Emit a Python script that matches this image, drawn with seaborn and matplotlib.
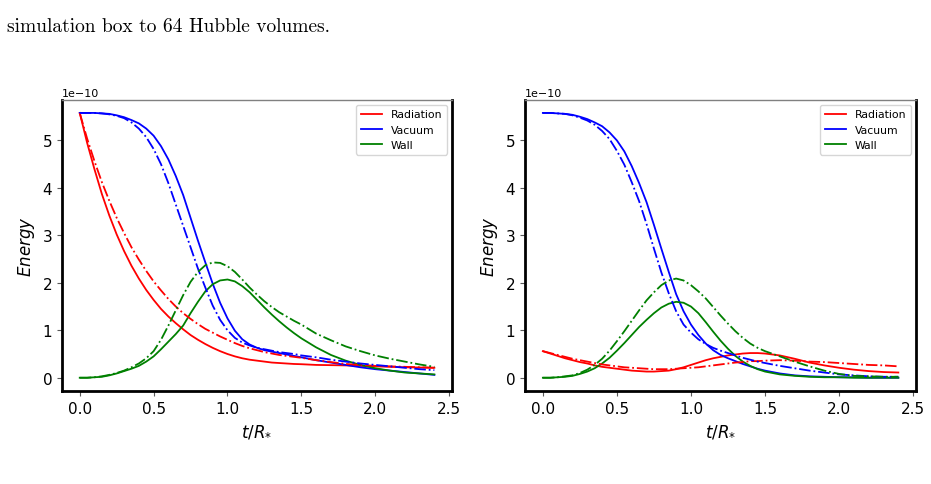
import numpy as np
import pandas as pd
import seaborn as sns
import matplotlib.pyplot as plt

# sample times t/R*
t = [0.0, 0.05, 0.1, 0.15, 0.2, 0.25, 0.3, 0.35, 0.4, 0.45,
     0.5, 0.55, 0.6, 0.65, 0.7, 0.75, 0.8, 0.85, 0.9, 0.95,
     1.0, 1.05, 1.1, 1.15, 1.2, 1.25, 1.3, 1.35, 1.4, 1.45,
     1.5, 1.6, 1.7, 1.8, 1.9, 2.0, 2.1, 2.2, 2.3, 2.4]

scale = 1e-10

# left panel, solid runs
left_rad = [5.58, 4.95, 4.39, 3.87, 3.42, 3.02, 2.67, 2.36, 2.09, 1.85,
            1.64, 1.45, 1.29, 1.15, 1.02, 0.90, 0.80, 0.71, 0.63, 0.56,
            0.50, 0.45, 0.41, 0.38, 0.36, 0.34, 0.32, 0.31, 0.30, 0.29,
            0.285, 0.27, 0.265, 0.26, 0.25, 0.24, 0.23, 0.22, 0.215, 0.21]
left_vac = [5.58, 5.58, 5.58, 5.57, 5.56, 5.53, 5.49, 5.43, 5.36, 5.25,
            5.10, 4.88, 4.60, 4.25, 3.85, 3.37, 2.89, 2.43, 1.98, 1.58,
            1.25, 0.99, 0.81, 0.70, 0.63, 0.58, 0.55, 0.52, 0.49, 0.46,
            0.43, 0.37, 0.32, 0.27, 0.22, 0.18, 0.15, 0.12, 0.09, 0.06]
left_wall = [0.0, 0.0, 0.01, 0.02, 0.05, 0.09, 0.14, 0.19, 0.25, 0.34,
             0.45, 0.60, 0.76, 0.92, 1.10, 1.36, 1.60, 1.82, 1.97, 2.05,
             2.07, 2.03, 1.93, 1.80, 1.64, 1.48, 1.33, 1.19, 1.06, 0.94,
             0.83, 0.64, 0.48, 0.36, 0.27, 0.20, 0.15, 0.11, 0.09, 0.07]

# left panel, dash-dot runs
left_rad_dd = [5.58, 5.04, 4.56, 4.12, 3.73, 3.37, 3.05, 2.75, 2.49, 2.25,
               2.03, 1.84, 1.66, 1.50, 1.36, 1.24, 1.13, 1.03, 0.95, 0.87,
               0.80, 0.73, 0.67, 0.62, 0.58, 0.54, 0.51, 0.48, 0.46, 0.44,
               0.42, 0.37, 0.33, 0.29, 0.27, 0.25, 0.24, 0.23, 0.22, 0.21]
left_vac_dd = [5.58, 5.58, 5.58, 5.57, 5.55, 5.52, 5.47, 5.38, 5.25, 5.07,
               4.82, 4.50, 4.10, 3.65, 3.20, 2.75, 2.30, 1.90, 1.52, 1.22,
               1.00, 0.84, 0.74, 0.68, 0.63, 0.60, 0.57, 0.54, 0.52, 0.50,
               0.47, 0.43, 0.38, 0.34, 0.30, 0.27, 0.24, 0.21, 0.18, 0.16]
left_wall_dd = [0.0, 0.0, 0.01, 0.03, 0.06, 0.10, 0.15, 0.22, 0.30, 0.41,
                0.56, 0.80, 1.10, 1.42, 1.74, 2.02, 2.23, 2.37, 2.43, 2.42,
                2.35, 2.23, 2.07, 1.90, 1.75, 1.61, 1.49, 1.38, 1.29, 1.20,
                1.12, 0.93, 0.79, 0.66, 0.56, 0.47, 0.40, 0.34, 0.28, 0.23]

# right panel, solid runs
right_rad = [0.56, 0.51, 0.46, 0.41, 0.37, 0.33, 0.30, 0.26, 0.23, 0.21,
             0.19, 0.17, 0.15, 0.14, 0.13, 0.13, 0.14, 0.15, 0.18, 0.22,
             0.27, 0.32, 0.37, 0.41, 0.44, 0.47, 0.49, 0.51, 0.52, 0.52,
             0.51, 0.47, 0.40, 0.32, 0.26, 0.21, 0.17, 0.14, 0.12, 0.11]
right_vac = [5.58, 5.58, 5.57, 5.56, 5.54, 5.50, 5.45, 5.38, 5.30, 5.17,
             5.00, 4.77, 4.46, 4.10, 3.70, 3.22, 2.72, 2.23, 1.76, 1.40,
             1.12, 0.90, 0.72, 0.58, 0.48, 0.41, 0.35, 0.29, 0.24, 0.19,
             0.15, 0.09, 0.05, 0.03, 0.02, 0.01, 0.01, 0.0, 0.0, 0.0]
right_wall = [0.0, 0.0, 0.01, 0.02, 0.04, 0.08, 0.13, 0.20, 0.30, 0.42,
              0.57, 0.73, 0.90, 1.07, 1.22, 1.36, 1.48, 1.56, 1.60, 1.58,
              1.50, 1.36, 1.17, 0.97, 0.78, 0.61, 0.46, 0.34, 0.25, 0.18,
              0.13, 0.07, 0.04, 0.02, 0.01, 0.01, 0.0, 0.0, 0.0, 0.0]

# right panel, dash-dot runs
right_rad_dd = [0.56, 0.52, 0.48, 0.44, 0.40, 0.37, 0.34, 0.31, 0.28, 0.26,
                0.24, 0.22, 0.21, 0.20, 0.19, 0.18, 0.18, 0.18, 0.19, 0.20,
                0.21, 0.22, 0.24, 0.26, 0.28, 0.30, 0.32, 0.33, 0.35, 0.35,
                0.36, 0.37, 0.36, 0.34, 0.33, 0.31, 0.29, 0.27, 0.26, 0.24]
right_vac_dd = [5.58, 5.58, 5.57, 5.56, 5.53, 5.48, 5.42, 5.33, 5.20, 5.03,
                4.78, 4.49, 4.12, 3.72, 3.24, 2.72, 2.22, 1.78, 1.40, 1.12,
                0.95, 0.81, 0.71, 0.63, 0.57, 0.52, 0.47, 0.42, 0.38, 0.34,
                0.31, 0.25, 0.20, 0.15, 0.11, 0.07, 0.05, 0.03, 0.02, 0.02]
right_wall_dd = [0.0, 0.0, 0.01, 0.03, 0.05, 0.10, 0.17, 0.27, 0.40, 0.57,
                 0.77, 0.98, 1.20, 1.42, 1.63, 1.80, 1.95, 2.05, 2.09, 2.05,
                 1.95, 1.82, 1.67, 1.49, 1.31, 1.14, 0.98, 0.84, 0.72, 0.63,
                 0.56, 0.45, 0.34, 0.24, 0.15, 0.08, 0.04, 0.03, 0.02, 0.02]

components = ['Radiation', 'Vacuum', 'Wall']
colors = ['red', 'blue', 'green']

panels = [
    ([left_rad, left_vac, left_wall],
     [left_rad_dd, left_vac_dd, left_wall_dd]),
    ([right_rad, right_vac, right_wall],
     [right_rad_dd, right_vac_dd, right_wall_dd]),
]

fig = plt.figure(figsize=(9.31, 4.85), dpi=100)
ax_boxes = [[0.0666, 0.1918, 0.419, 0.6006],
            [0.564, 0.1918, 0.42, 0.6006]]

for box, (solid, dashdot) in zip(ax_boxes, panels):
    ax = fig.add_axes(box)
    for name, col, ys in zip(components, colors, solid):
        sns.lineplot(x=t, y=np.array(ys) * scale, color=col,
                     linewidth=1.3, label=name, ax=ax)
    for col, ys in zip(colors, dashdot):
        sns.lineplot(x=t, y=np.array(ys) * scale, color=col,
                     linewidth=1.3, linestyle='-.', ax=ax)
    ax.set_xticks([0.0, 0.5, 1.0, 1.5, 2.0, 2.5])
    ax.tick_params(labelsize=11, color='0.35')
    ax.yaxis.get_offset_text().set_fontsize(8)
    ax.set_xlabel('$t/R_{*}$', fontsize=12)
    ax.set_ylabel('$Energy$', fontsize=12)
    for side in ['left', 'right', 'bottom']:
        ax.spines[side].set_linewidth(2.0)
        ax.spines[side].set_color('black')
    ax.spines['top'].set_linewidth(1.0)
    ax.spines['top'].set_color('0.5')
    ax.legend(loc='upper right', fontsize=7.8)

fig.text(0.007, 0.935, 'simulation box to 64 Hubble volumes.',
         fontfamily='cmr10', fontsize=14, va='baseline')

plt.savefig('out.png', dpi=100)
